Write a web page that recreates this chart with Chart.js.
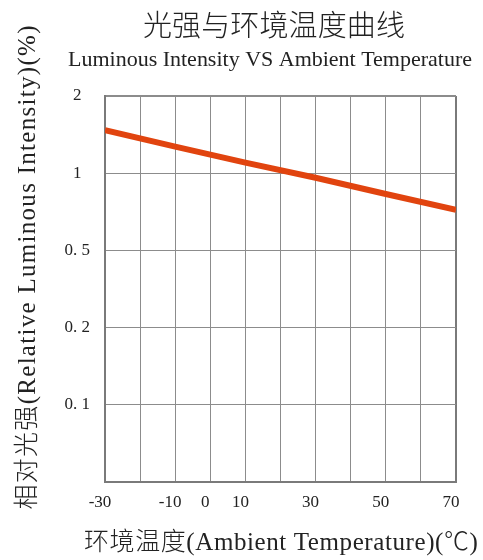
<!DOCTYPE html>
<html>
<head>
<meta charset="utf-8">
<script src="https://cdn.jsdelivr.net/npm/chart.js@4"></script>
<style>
  html, body { margin: 0; padding: 0; background: #ffffff; }
  #wrap { width: 483px; height: 560px; }
</style>
</head>
<body>
<div id="wrap"><canvas id="c" width="483" height="560"></canvas></div>
<script>
// ---- data ----
const temperatures = [-30, -10, 10, 30, 50, 70];
const relIntensity = [1.47, 1.27, 1.10, 0.96, 0.83, 0.72];
const yTickValues = [2, 1, 0.5, 0.2, 0.1];
const yTickLabels = ['2', '1', '0. 5', '0. 2', '0. 1', ''];
const xTickLabels = [-30, -10, 0, 10, 30, 50, 70];
const titleText = '光强与环境温度曲线';
const subtitleText = 'Luminous Intensity VS Ambient Temperature';
const xTitle = '环境温度(Ambient Temperature)(℃)';
const yTitle = '相对光强(Relative Luminous Intensity)(%)';

// Map a value onto the evenly spaced gridded axis (piecewise log between labelled ticks)
function toGridPos(v) {
  for (let i = 0; i < yTickValues.length - 1; i++) {
    const a = yTickValues[i], b = yTickValues[i + 1];
    if (v <= a && v >= b) return i + Math.log(a / v) / Math.log(a / b);
  }
  return v > yTickValues[0] ? 0 : yTickValues.length - 1;
}

const FONT = "'Liberation Serif', 'Noto Sans CJK SC', serif";

// Titles drawn to fit the spans used in the reference
const titlesPlugin = {
  id: 'spacedTitles',
  afterDraw(chart) {
    const ctx = chart.ctx;
    const items = [
      { text: titleText, size: 29, weight: '300', cx: 274, cy: 28, base: 'middle', span: 262, rot: 0 },
      { text: subtitleText, size: 22, weight: 'normal', cx: 270, cy: 65.5, base: 'alphabetic', span: 404, rot: 0 },
      { text: xTitle, size: 25, weight: '300', cx: 281, cy: 543, base: 'middle', span: 394, rot: 0 },
      { text: yTitle, size: 25, weight: '300', cx: 28.5, cy: 267.5, base: 'middle', span: 484, rot: -Math.PI / 2 }
    ];
    items.forEach(it => {
      ctx.save();
      ctx.font = it.weight + ' ' + it.size + 'px ' + FONT;
      ctx.fillStyle = '#222';
      ctx.textBaseline = it.base;
      ctx.textAlign = 'left';
      ctx.letterSpacing = '0px';
      const w = ctx.measureText(it.text).width;
      const n = Array.from(it.text).length;
      ctx.translate(it.cx, it.cy);
      ctx.rotate(it.rot);
      if (w <= it.span) {
        const sp = (it.span - w) / (n - 1);
        ctx.letterSpacing = sp.toFixed(2) + 'px';
      } else {
        ctx.scale(it.span / w, 1);
      }
      const drawnW = w <= it.span ? it.span : w;
      ctx.fillText(it.text, -drawnW / 2, 0);
      ctx.restore();
    });
  }
};

function edgeWidth(ctx, count) {
  return (ctx.index === 0 || ctx.index === count - 1) ? 2 : 1;
}

new Chart(document.getElementById('c'), {
  type: 'line',
  data: {
    datasets: [{
      data: temperatures.map((t, i) => ({ x: t, y: toGridPos(relIntensity[i]) })),
      borderColor: '#e1440f',
      borderWidth: 6,
      pointRadius: 0,
      tension: 0,
      fill: false
    }]
  },
  options: {
    responsive: false,
    animation: false,
    devicePixelRatio: 1,
    layout: { padding: { top: 96, left: 0, right: 27, bottom: 0 } },
    plugins: {
      legend: { display: false },
      tooltip: { enabled: false },
      title: { display: false },
      subtitle: { display: false }
    },
    scales: {
      x: {
        type: 'linear',
        min: -30,
        max: 70,
        afterFit(scale) { scale.height = 78; },
        ticks: {
          stepSize: 10,
          autoSkip: false,
          maxRotation: 0,
          padding: 10,
          labelOffset: -5,
          color: '#222',
          font: { family: FONT, size: 17 },
          callback: (v) => xTickLabels.includes(v) ? String(v) : ''
        },
        grid: {
          color: (c) => (c.index === 10 ? '#7a7a7a' : '#8c8c8c'),
          lineWidth: (c) => edgeWidth(c, 11),
          drawTicks: false
        },
        border: { color: '#7a7a7a', width: 2 },
        title: { display: false }
      },
      y: {
        type: 'linear',
        min: 0,
        max: 5,
        reverse: true,
        afterFit(scale) { scale.width = 105; },
        ticks: {
          stepSize: 1,
          autoSkip: false,
          padding: 15,
          crossAlign: 'center',
          color: '#222',
          font: { family: FONT, size: 17 },
          callback: (v) => yTickLabels[v] !== undefined ? yTickLabels[v] : ''
        },
        grid: {
          color: (c) => (c.index === 0 ? '#7a7a7a' : '#8c8c8c'),
          lineWidth: (c) => edgeWidth(c, 6),
          drawTicks: false
        },
        border: { color: '#7a7a7a', width: 2 },
        title: { display: false }
      }
    }
  },
  plugins: [titlesPlugin]
});
</script>
</body>
</html>
